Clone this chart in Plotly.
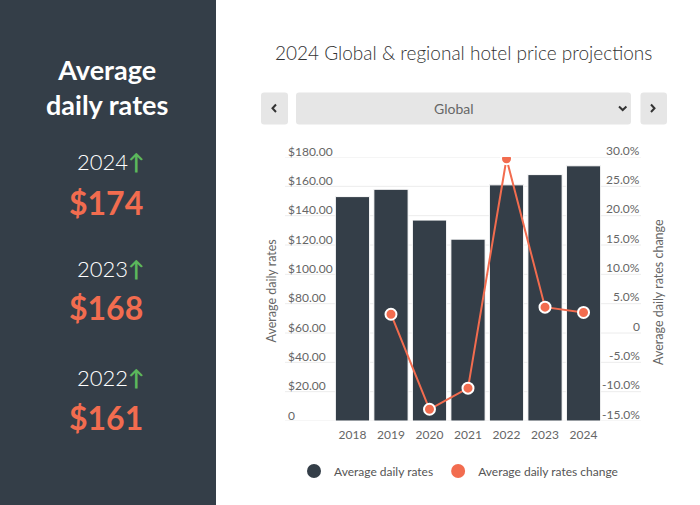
import plotly.graph_objects as go

# ---------------- data ----------------
years = ["2018", "2019", "2020", "2021", "2022", "2023", "2024"]
rates = [153, 158, 137, 124, 161, 168, 174]
change = [None, 3.2, -13.0, -9.4, 29.7, 4.4, 3.5]

left_ticks = [0, 20, 40, 60, 80, 100, 120, 140, 160, 180]
left_labels = ["0", "$20.00", "$40.00", "$60.00", "$80.00", "$100.00",
               "$120.00", "$140.00", "$160.00", "$180.00"]
right_ticks = [-15, -10, -5, 0, 5, 10, 15, 20, 25, 30]
right_labels = ["-15.0%", "-10.0%", "-5.0%", "0", "5.0%", "10.0%",
                "15.0%", "20.0%", "25.0%", "30.0%"]

highlight_years = ["2024", "2023", "2022"]

title_text = "2024 Global & regional hotel price projections"
region_text = "Global"

# ---------------- styles ----------------
DARK = "#343e48"
ORANGE = "#f26c4f"
GREEN = "#5cb85c"
GRAY = "#666666"
FONT = "Lato"

WIDTH, HEIGHT = 700, 505
L, R, T, B = 332, 604, 157, 421
PW, PH = R - L, B - T


def PX(x):
    return (x - L) / PW


def PY(y):
    return (B - y) / PH


fig = go.Figure()

fig.add_trace(go.Bar(
    x=years, y=rates, name="Average daily rates",
    marker=dict(color=DARK, line=dict(color="white", width=1)),
    showlegend=False, yaxis="y",
))
fig.add_trace(go.Scatter(
    x=years, y=change, name="Average daily rates change",
    mode="lines+markers", yaxis="y2",
    line=dict(color=ORANGE, width=2),
    marker=dict(color=ORANGE, size=11, line=dict(color="white", width=2)),
    showlegend=False,
))
# legend entries (circle symbols)
fig.add_trace(go.Scatter(x=[None], y=[None], mode="markers", name="Average daily rates",
                         marker=dict(color=DARK, size=14, symbol="circle")))
fig.add_trace(go.Scatter(x=[None], y=[None], mode="markers", name="Average daily rates change",
                         marker=dict(color=ORANGE, size=14, symbol="circle")))

shapes = []
annotations = []

# left dark panel
shapes.append(dict(type="rect", xref="paper", yref="paper",
                   x0=PX(0), x1=PX(216), y0=PY(HEIGHT), y1=PY(0),
                   fillcolor=DARK, line=dict(width=0), layer="below"))

# gridlines
for v in left_ticks:
    shapes.append(dict(type="line", xref="paper", yref="y",
                       x0=PX(285), x1=PX(641), y0=v, y1=v,
                       line=dict(color="#ececec", width=1), layer="below"))

# tick labels
for v, t in zip(left_ticks, left_labels):
    annotations.append(dict(text=t, xref="paper", yref="y", x=PX(285.5), y=v,
                            xanchor="left", yanchor="middle", yshift=6, showarrow=False,
                            font=dict(family=FONT, size=12, color=GRAY)))
for v, t in zip(right_ticks, right_labels):
    annotations.append(dict(text=t, xref="paper", yref="y2", x=PX(641.5), y=v,
                            xanchor="right", yanchor="middle", yshift=7, showarrow=False,
                            font=dict(family=FONT, size=12, color=GRAY)))

# axis titles
annotations.append(dict(text="Average daily rates", xref="paper", yref="paper",
                        x=PX(270.5), y=PY(291), textangle=-90, showarrow=False,
                        xanchor="center", yanchor="middle",
                        font=dict(family=FONT, size=12.5, color=GRAY)))
annotations.append(dict(text="Average daily rates change", xref="paper", yref="paper",
                        x=PX(658), y=PY(292), textangle=-90, showarrow=False,
                        xanchor="center", yanchor="middle",
                        font=dict(family=FONT, size=12.5, color=GRAY)))

# title
annotations.append(dict(text=title_text, xref="paper", yref="paper",
                        x=PX(463.5), y=PY(52), showarrow=False,
                        xanchor="center", yanchor="middle",
                        font=dict(family=FONT, size=19, color="#333333", weight=300)))


# dropdown row
def rrect(x0, y0, x1, y1, r=3):
    pts = [
        f"M {PX(x0 + r)} {PY(y0)}",
        f"L {PX(x1 - r)} {PY(y0)}",
        f"Q {PX(x1)} {PY(y0)} {PX(x1)} {PY(y0 + r)}",
        f"L {PX(x1)} {PY(y1 - r)}",
        f"Q {PX(x1)} {PY(y1)} {PX(x1 - r)} {PY(y1)}",
        f"L {PX(x0 + r)} {PY(y1)}",
        f"Q {PX(x0)} {PY(y1)} {PX(x0)} {PY(y1 - r)}",
        f"L {PX(x0)} {PY(y0 + r)}",
        f"Q {PX(x0)} {PY(y0)} {PX(x0 + r)} {PY(y0)}",
        "Z",
    ]
    return " ".join(pts)


for (a, b) in [(261, 288), (296, 631), (640.5, 667)]:
    shapes.append(dict(type="path", xref="paper", yref="paper", path=rrect(a, 92.5, b, 124.5),
                       fillcolor="#e6e6e6", line=dict(width=0)))


def poly(points):
    return " ".join(("M" if i == 0 else "L") + f" {PX(x)} {PY(y)}" for i, (x, y) in enumerate(points))


chev = dict(color="#333333", width=2)
shapes.append(dict(type="path", xref="paper", yref="paper",
                   path=poly([(276, 104.5), (272.5, 108.3), (276, 112)]), line=chev))
shapes.append(dict(type="path", xref="paper", yref="paper",
                   path=poly([(651, 104.5), (654.5, 108.3), (651, 112)]), line=chev))
shapes.append(dict(type="path", xref="paper", yref="paper",
                   path=poly([(619, 106.5), (622.7, 110), (626.4, 106.5)]), line=chev))

annotations.append(dict(text=region_text, xref="paper", yref="paper",
                        x=PX(453.5), y=PY(108.5), showarrow=False,
                        xanchor="center", yanchor="middle",
                        font=dict(family=FONT, size=14, color=GRAY)))

# left panel heading (single two-line text)
annotations.append(dict(text="<b>Average</b><br><b>daily rates</b>", xref="paper", yref="paper",
                        x=PX(107), y=PY(87), showarrow=False, xanchor="center", yanchor="middle",
                        align="center",
                        font=dict(family=FONT, size=27, color="white")))

panel_y = [(161, 202), (268, 307), (377, 417)]
for yr, (yy, vy) in zip(highlight_years, panel_y):
    val = rates[years.index(yr)]
    annotations.append(dict(text=f"{yr}<span style='color:{GREEN}'><b>↑</b></span>",
                            xref="paper", yref="paper", x=PX(111), y=PY(yy),
                            showarrow=False, xanchor="center", yanchor="middle",
                            font=dict(family=FONT, size=22, color="white", weight=300)))
    annotations.append(dict(text=f"<b>${val}</b>", xref="paper", yref="paper",
                            x=PX(106), y=PY(vy), showarrow=False,
                            xanchor="center", yanchor="middle",
                            font=dict(family=FONT, size=32, color=ORANGE)))

fig.update_layout(
    width=WIDTH, height=HEIGHT, autosize=False,
    margin=dict(l=L, r=WIDTH - R, t=T, b=HEIGHT - B, pad=0),
    paper_bgcolor="white", plot_bgcolor="rgba(0,0,0,0)",
    font=dict(family=FONT, color=GRAY),
    bargap=0.11,
    xaxis=dict(showgrid=False, zeroline=False, showline=False, ticks="",
               ticklabelstandoff=5,
               tickfont=dict(family=FONT, size=12, color=GRAY)),
    yaxis=dict(range=[0, 180], showgrid=False, zeroline=False, showticklabels=False,
               showline=False),
    yaxis2=dict(range=[-15, 30], overlaying="y", side="right", showgrid=False,
                zeroline=False, showticklabels=False, showline=False),
    showlegend=True,
    legend=dict(orientation="h", x=PX(294), y=PY(471), xanchor="left", yanchor="middle",
                font=dict(family=FONT, size=12, color="#555555"),
                bgcolor="rgba(0,0,0,0)"),
    shapes=shapes,
    annotations=annotations,
)

fig.write_html("out.html", config={"displayModeBar": False},
               post_script="document.body.style.margin='0';")
